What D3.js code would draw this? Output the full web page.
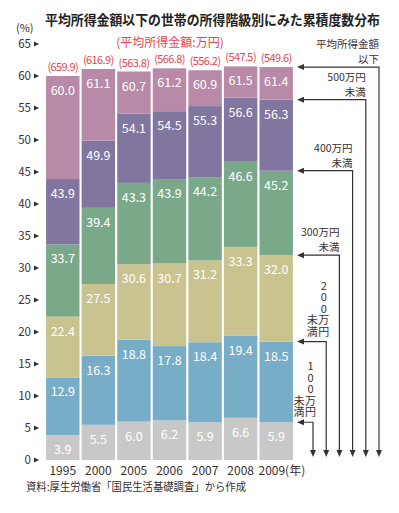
<!DOCTYPE html>
<html>
<head>
<meta charset="utf-8">
<script src="https://cdn.jsdelivr.net/npm/d3@7"></script>
<style>
  body { margin: 0; background: #fff; }
  svg { font-family: "Noto Sans CJK JP", "Noto Sans", sans-serif; }
</style>
</head>
<body>
<svg id="chart" width="399" height="513"></svg>
<script>
// cumulative shares (%) of households below each income bracket
const years = ["1995", "2000", "2005", "2006", "2007", "2008", "2009"];
const under100 = [3.9, 5.5, 6.0, 6.2, 5.9, 6.6, 5.9];
const under200 = [12.9, 16.3, 18.8, 17.8, 18.4, 19.4, 18.5];
const under300 = [22.4, 27.5, 30.6, 30.7, 31.2, 33.3, 32.0];
const under400 = [33.7, 39.4, 43.3, 43.9, 44.2, 46.6, 45.2];
const under500 = [43.9, 49.9, 54.1, 54.5, 55.3, 56.6, 56.3];
const underAvg = [60.0, 61.1, 60.7, 61.2, 60.9, 61.5, 61.4];
const avgIncome = ["(659.9)", "(616.9)", "(563.8)", "(566.8)", "(556.2)", "(547.5)", "(549.6)"];
const yTicks = d3.range(0, 70, 5);

const series = [under100, under200, under300, under400, under500, underAvg];
const colors = ["#c8c8c8", "#78adc7", "#c9c38f", "#7aa98a", "#80769f", "#b98aa7"];
const legendLabels = [
  ["100万円", "未満"],
  ["200万円", "未満"],
  ["300万円", "未満"],
  ["400万円", "未満"],
  ["500万円", "未満"],
  ["平均所得金額", "以下"]
];

const svg = d3.select("#chart");
const ink = "#3a3030";
const red = "#e8454f";

const x = d3.scaleBand().domain(years).range([45, 294]).paddingInner(0.06).paddingOuter(0.03);
const y = d3.scaleLinear().domain([0, 65]).range([460, 44]);

// title
svg.append("text")
  .attr("x", 45).attr("y", 25)
  .attr("textLength", 335).attr("lengthAdjust", "spacingAndGlyphs")
  .attr("font-size", 13.5).attr("font-weight", "bold").attr("fill", "#222")
  .text("平均所得金額以下の世帯の所得階級別にみた累積度数分布");

svg.append("text").attr("x", 16).attr("y", 32)
  .attr("font-size", 11).attr("fill", ink).text("(%)");

// y axis: labels with small triangle markers
const yAxis = svg.append("g");
yTicks.forEach(t => {
  yAxis.append("text")
    .attr("x", 31).attr("y", y(t) + 4)
    .attr("text-anchor", "end").attr("font-size", 11.5).attr("fill", ink)
    .text(t);
  yAxis.append("path")
    .attr("d", `M34,${y(t) - 2.5}L39,${y(t)}L34,${y(t) + 2.5}Z`)
    .attr("fill", ink);
});

// stacked bars (each series is a cumulative top value)
const bars = svg.append("g");
series.forEach((vals, si) => {
  const prev = si === 0 ? years.map(() => 0) : series[si - 1];
  years.forEach((yr, i) => {
    bars.append("rect")
      .attr("x", x(yr)).attr("width", x.bandwidth())
      .attr("y", y(vals[i])).attr("height", y(prev[i]) - y(vals[i]))
      .attr("fill", colors[si]);
    bars.append("text")
      .attr("x", x(yr) + x.bandwidth() / 2).attr("y", y(vals[i]) + 19)
      .attr("text-anchor", "middle").attr("font-size", 12.5).attr("fill", "#fff")
      .text(vals[i].toFixed(1));
  });
});

// average income labels
svg.append("text")
  .attr("x", 170).attr("y", 47)
  .attr("text-anchor", "middle").attr("font-size", 12).attr("fill", red)
  .text("(平均所得金額:万円)");
years.forEach((yr, i) => {
  svg.append("text")
    .attr("x", x(yr) + x.bandwidth() / 2).attr("y", y(underAvg[i]) - 5)
    .attr("text-anchor", "middle").attr("font-size", 11)
    .attr("letter-spacing", -0.6).attr("fill", red)
    .text(avgIncome[i]);
});

// x labels
years.forEach((yr, i) => {
  const last = i === years.length - 1;
  svg.append("text")
    .attr("x", last ? x(yr) - 1 : x(yr) + x.bandwidth() / 2).attr("y", 475)
    .attr("text-anchor", last ? "start" : "middle")
    .attr("font-size", 12).attr("fill", ink)
    .text(last ? yr + "(年)" : yr);
});

svg.append("text").attr("x", 26).attr("y", 491)
  .attr("font-size", 11.5).attr("fill", ink)
  .attr("textLength", 220).attr("lengthAdjust", "spacingAndGlyphs")
  .text("資料:厚生労働省「国民生活基礎調査」から作成");

// right-hand bracket arrows pointing at the 2009 bar
const lastIdx = years.length - 1;
const arrowStart = 297;
const arrowBottom = 457;
const lines = svg.append("g");
series.forEach((vals, si) => {
  const ay = y(vals[lastIdx]);
  const lx = 313 + si * 13.2;
  lines.append("path")
    .attr("d", `M${arrowStart + 5},${ay}H${lx}V${arrowBottom - 5}`)
    .attr("fill", "none").attr("stroke", ink).attr("stroke-width", 1.2);
  lines.append("path")
    .attr("d", `M${arrowStart},${ay}l7,-3v6Z`).attr("fill", ink);
  lines.append("path")
    .attr("d", `M${lx},${arrowBottom}l-3,-7h6Z`).attr("fill", ink);

  const [l1, l2] = legendLabels[si];
  if (si >= 2) {
    lines.append("text").attr("x", lx).attr("y", ay - 19)
      .attr("text-anchor", "end").attr("font-size", 10.5).attr("fill", ink).text(l1);
    lines.append("text").attr("x", lx).attr("y", ay - 4)
      .attr("text-anchor", "end").attr("font-size", 10.5).attr("fill", ink).text(l2);
  } else {
    // vertical columns, read top to bottom, ending just above the arrow
    [[l1, lx - 2.5], [l2, lx - 14]].forEach(([s, cx]) => {
      lines.append("text")
        .attr("x", cx).attr("y", ay - 4)
        .attr("text-anchor", "end")
        .attr("font-size", 11).attr("letter-spacing", 0.5).attr("fill", ink)
        .style("writing-mode", "vertical-rl")
        .style("text-orientation", "upright")
        .text(s);
    });
  }
});
</script>
</body>
</html>
